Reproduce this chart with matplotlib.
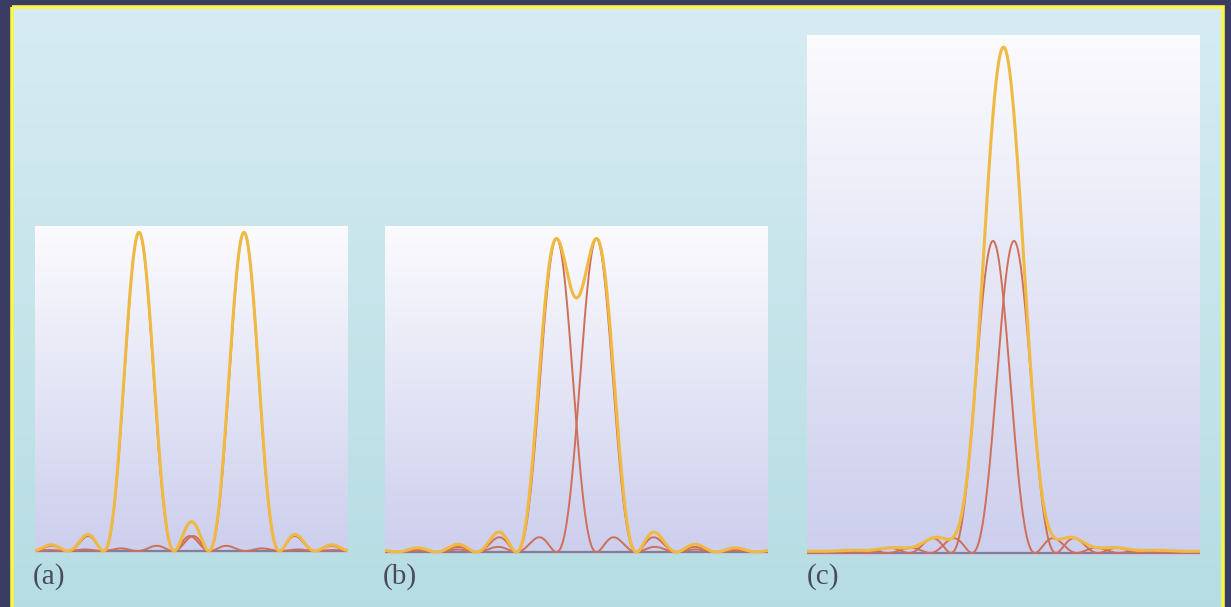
import matplotlib.pyplot as plt
import numpy as np
from matplotlib.patches import Rectangle

W, H = 1231, 607

# panel labels
labels = ["(a)", "(b)", "(c)"]
# centres of the two point images, in units of the first-zero distance
centers = [
    [-1.48, 1.48],   # (a) well resolved
    [-0.50, 0.50],   # (b) Rayleigh limit
    [-0.25, 0.25],   # (c) not resolved
]
# peak intensity of each single image
peak_heights = [1.0, 1.0]
# visible half-width of x and top of y for each panel
x_half = [4.41, 4.79, 4.68]
y_top = [1.02, 1.04, 1.66]

# layout (pixels): left, top, right, bottom(baseline)
boxes = [(35, 226, 348, 553), (385, 226, 768, 554), (807, 35, 1200, 556)]
label_x = [33, 383, 807]

yellow = "#efb942"
red = "#cf6f58"

fig = plt.figure(figsize=(W / 100, H / 100), dpi=100)
fig.patch.set_facecolor("#3a3c64")

# background: light blue board with yellow frame
bg = fig.add_axes([0, 0, 1, 1])
bg.axis("off")
g = np.linspace(0, 1, 256)[:, None]
top_c = np.array([0.84, 0.925, 0.95])
bot_c = np.array([0.71, 0.865, 0.89])
board = (top_c * (1 - g) + bot_c * g)[:, None, :].repeat(2, axis=1)
bg.imshow(board, extent=[12, 1223, 620, 7], aspect="auto", zorder=0)
bg.add_patch(Rectangle((12, 7), 1211, 640, fill=False, ec="#f8f646", lw=2.6, zorder=2))
bg.set_xlim(0, W)
bg.set_ylim(H, 0)

for i, lab in enumerate(labels):
    l, t, r, b = boxes[i]
    ax = fig.add_axes([l / W, 1 - b / H, (r - l) / W, (b - t) / H])
    xh, yt = x_half[i], y_top[i]
    ylo = -0.006 * yt
    pw = np.array([0.985, 0.985, 0.995])
    pl = np.array([0.80, 0.81, 0.93])
    grad = (pw * (1 - g) + pl * g)[:, None, :].repeat(2, axis=1)
    ax.imshow(grad, extent=[-xh, xh, ylo, yt], aspect="auto", zorder=0)

    x = np.linspace(-xh, xh, 2000)
    singles = [h * np.sinc(x - c) ** 2 for c, h in zip(centers[i], peak_heights)]
    total = singles[0] + singles[1]

    ax.axhline(0, color="#7f8294", lw=1.6, zorder=1)
    for s in singles:
        ax.plot(x, s, color=red, lw=1.4, zorder=2)
    ax.plot(x, total, color=yellow, lw=2.2, zorder=3, solid_capstyle="round")

    ax.set_xlim(-xh, xh)
    ax.set_ylim(ylo, yt)
    ax.axis("off")

    fig.text(label_x[i] / W, 1 - 584 / H, lab, family="Liberation Serif",
             fontsize=21, color="#4a4b5a", ha="left", va="baseline")

fig.savefig("out.png", dpi=100, facecolor=fig.get_facecolor())
